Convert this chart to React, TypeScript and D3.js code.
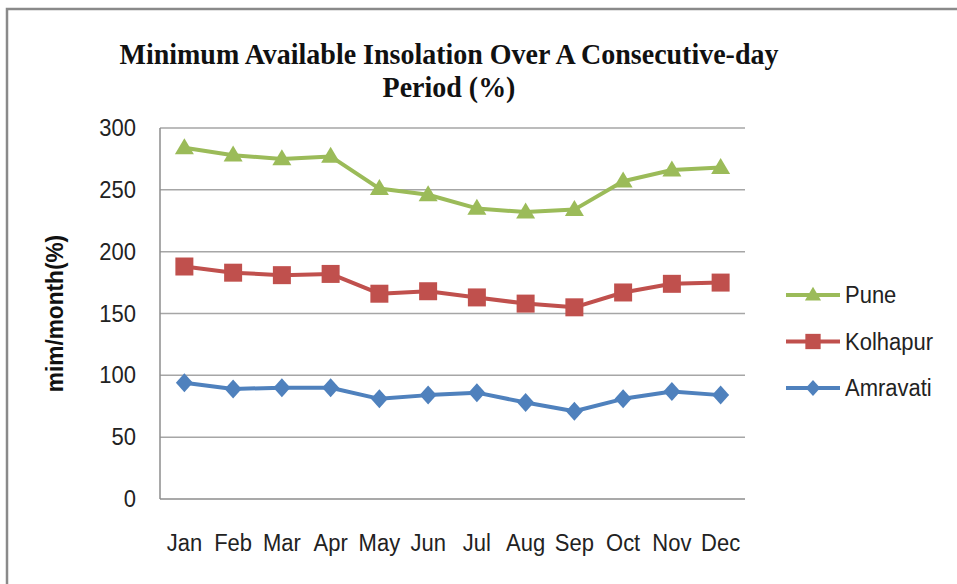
import * as d3 from "d3";

const WIDTH = 957;
const HEIGHT = 584;
const PLOT = { left: 160, right: 745, top: 128, bottom: 499 };

const MONTHS = ["Jan", "Feb", "Mar", "Apr", "May", "Jun", "Jul", "Aug", "Sep", "Oct", "Nov", "Dec"];
const PUNE = [284, 278, 275, 277, 251, 246, 235, 232, 234, 257, 266, 268];
const KOLHAPUR = [188, 183, 181, 182, 166, 168, 163, 158, 155, 167, 174, 175];
const AMRAVATI = [94, 89, 90, 90, 81, 84, 86, 78, 71, 81, 87, 84];
const Y_TICKS = [0, 50, 100, 150, 200, 250, 300];

type Marker = "triangle" | "square" | "diamond";

const SERIES: { name: string; values: number[]; color: string; marker: Marker }[] = [
  { name: "Pune", values: PUNE, color: "#9bbb59", marker: "triangle" },
  { name: "Kolhapur", values: KOLHAPUR, color: "#c0504d", marker: "square" },
  { name: "Amravati", values: AMRAVATI, color: "#4f81bd", marker: "diamond" },
];

const SANS = "'Liberation Sans', Arial, sans-serif";

// Excel-style markers, centred on the point; k shrinks them for the legend.
function markerPath(kind: Marker, k = 1) {
  const p = d3.path();
  if (kind === "triangle") {
    const w = 9.5 * k;
    const h = 16 * k;
    p.moveTo(0, -h * 0.6);
    p.lineTo(w, h * 0.4);
    p.lineTo(-w, h * 0.4);
  } else if (kind === "square") {
    const s = 9 * k;
    p.rect(-s, -s, 2 * s, 2 * s);
  } else {
    const w = 8.5 * k;
    const h = 9.5 * k;
    p.moveTo(0, -h);
    p.lineTo(w, 0);
    p.lineTo(0, h);
    p.lineTo(-w, 0);
  }
  p.closePath();
  return p.toString();
}

export default function App() {
  const x = d3.scaleBand<string>().domain(MONTHS).range([PLOT.left, PLOT.right]);
  const y = d3.scaleLinear().domain([0, 300]).range([PLOT.bottom, PLOT.top]);
  const cx = (m: string) => (x(m) ?? 0) + x.bandwidth() / 2;
  const line = d3
    .line<number>()
    .x((_, i) => cx(MONTHS[i]))
    .y((d) => y(d));

  return (
    <svg
      width={WIDTH}
      height={HEIGHT}
      viewBox={`0 0 ${WIDTH} ${HEIGHT}`}
      style={{ position: "absolute", left: 0, top: 0, background: "#fff" }}
    >
      {/* chart frame, cut by the picture edges on the right and bottom */}
      <rect x={7} y={9} width={WIDTH + 10} height={HEIGHT + 10} fill="#fff" stroke="#8a8a8a" strokeWidth={2.5} />

      <g fontFamily="'Liberation Serif', 'Times New Roman', serif" fontWeight="bold" fontSize={28} fill="#111" textAnchor="middle">
        <text transform="translate(449,64) scale(1,1.08)">Minimum Available Insolation Over A Consecutive-day</text>
        <text transform="translate(449,97) scale(1,1.08)">Period (%)</text>
      </g>

      {/* grid */}
      {Y_TICKS.map((t) => (
        <line
          key={t}
          x1={PLOT.left}
          x2={PLOT.right}
          y1={y(t)}
          y2={y(t)}
          stroke={t === 0 ? "#8c8c8c" : "#a6a6a6"}
          strokeWidth={1.5}
        />
      ))}
      <line x1={PLOT.left} x2={PLOT.left} y1={PLOT.top} y2={PLOT.bottom} stroke="#8c8c8c" strokeWidth={1.5} />

      <g fontFamily={SANS} fontSize={22} fill="#222">
        {Y_TICKS.map((t) => (
          <text key={t} transform={`translate(136,${y(t) + 8}) scale(1,1.12)`} textAnchor="end">
            {t}
          </text>
        ))}
        {MONTHS.map((m) => (
          <text key={m} transform={`translate(${cx(m)},551) scale(1,1.12)`} textAnchor="middle">
            {m}
          </text>
        ))}
      </g>

      <text
        transform={`translate(63,${(PLOT.top + PLOT.bottom) / 2}) rotate(-90) scale(1.03,1.08)`}
        textAnchor="middle"
        fontFamily={SANS}
        fontWeight="bold"
        fontSize={22}
        fill="#111"
      >
        mim/month(%)
      </text>

      {SERIES.map((s) => (
        <g key={s.name}>
          <path d={line(s.values) ?? ""} fill="none" stroke={s.color} strokeWidth={4} strokeLinejoin="round" />
          {s.values.map((v, i) => (
            <path
              key={i}
              d={markerPath(s.marker)}
              transform={`translate(${cx(MONTHS[i])},${y(v)})`}
              fill={s.color}
            />
          ))}
        </g>
      ))}

      {/* legend */}
      {SERIES.map((s, i) => {
        const ly = 295 + i * 46.5;
        return (
          <g key={s.name}>
            <line x1={786} x2={840} y1={ly} y2={ly} stroke={s.color} strokeWidth={4} />
            <path d={markerPath(s.marker, 0.85)} transform={`translate(813,${ly})`} fill={s.color} />
            <text transform={`translate(845,${ly + 8}) scale(1,1.12)`} fontFamily={SANS} fontSize={22} fill="#222">
              {s.name}
            </text>
          </g>
        );
      })}
    </svg>
  );
}
